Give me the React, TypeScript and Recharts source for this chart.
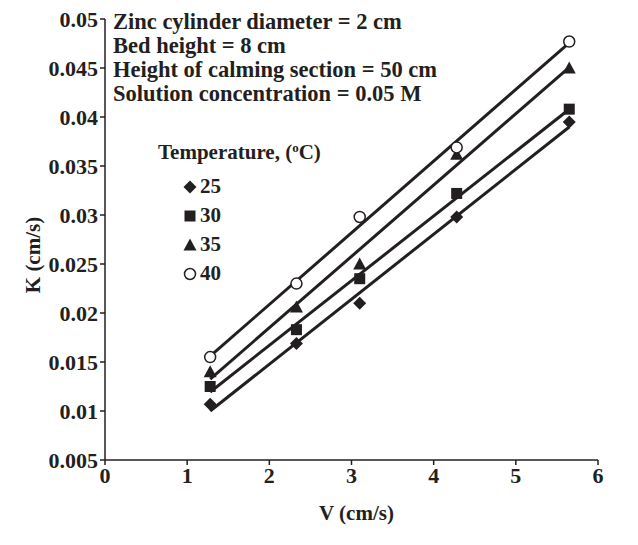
import React from 'react';
import { ScatterChart, Scatter, XAxis, YAxis } from 'recharts';

const velocity = [1.28, 2.33, 3.1, 4.28, 5.65];
const k25 = [0.0107, 0.0169, 0.021, 0.0298, 0.0395];
const k30 = [0.0125, 0.0183, 0.0235, 0.0322, 0.0408];
const k35 = [0.014, 0.0206, 0.025, 0.0362, 0.045];
const k40 = [0.0155, 0.023, 0.0298, 0.0369, 0.0477];
const temperatures = ['25', '30', '35', '40'];
const xTicks = [0, 1, 2, 3, 4, 5, 6];
const yTicks = [0.005, 0.01, 0.015, 0.02, 0.025, 0.03, 0.035, 0.04, 0.045, 0.05];
const notes = [
  'Zinc cylinder diameter = 2 cm',
  'Bed height = 8 cm',
  'Height of calming section = 50 cm',
  'Solution concentration = 0.05 M',
];

const INK = '#231f20';
const FONT = '"Liberation Serif", "Times New Roman", serif';

const toPoints = (ys: number[]) => velocity.map((x, i) => ({ x, y: ys[i] }));
const seriesValues = [k25, k30, k35, k40];

type MarkerKind = 'diamond' | 'square' | 'triangle' | 'circle';
const kinds: MarkerKind[] = ['diamond', 'square', 'triangle', 'circle'];

function Marker({ kind, cx, cy }: { kind: MarkerKind; cx: number; cy: number }) {
  if (kind === 'diamond') {
    const r = 6.5;
    return <polygon points={`${cx},${cy - r} ${cx + r},${cy} ${cx},${cy + r} ${cx - r},${cy}`} fill={INK} />;
  }
  if (kind === 'square') {
    const s = 11;
    return <rect x={cx - s / 2} y={cy - s / 2} width={s} height={s} fill={INK} />;
  }
  if (kind === 'triangle') {
    const h = 11;
    return <polygon points={`${cx},${cy - h / 2 - 1} ${cx + 6.5},${cy + h / 2} ${cx - 6.5},${cy + h / 2}`} fill={INK} />;
  }
  return <circle cx={cx} cy={cy} r={5.5} fill="#fff" stroke={INK} strokeWidth={1.5} />;
}

const makeShape = (kind: MarkerKind) => (props: any) => {
  if (props.cx == null || props.cy == null) return <g />;
  return <Marker kind={kind} cx={props.cx} cy={props.cy} />;
};

const emptyShape = () => <g />;

export default function App() {
  return (
    <div style={{ position: 'absolute', left: 0, top: 0, width: 638, height: 545, background: '#fff', fontFamily: FONT }}>
      <ScatterChart width={638} height={545} margin={{ top: 19, right: 40, bottom: 0, left: 0 }}>
        <XAxis
          type="number"
          dataKey="x"
          domain={[0, 6]}
          ticks={xTicks}
          height={85}
          axisLine={{ stroke: INK, strokeWidth: 1.5 }}
          tickLine={{ stroke: INK, strokeWidth: 1.5 }}
          tickSize={5}
          tick={{ fill: INK, fontFamily: FONT, fontWeight: 'bold', fontSize: 22 }}
          label={(p: any) => {
            const vb = p.viewBox;
            return (
              <text x={vb.x + vb.width / 2 + 5} y={520} textAnchor="middle" fill={INK} fontFamily={FONT} fontWeight="bold" fontSize={21}>
                V (cm/s)
              </text>
            );
          }}
        />
        <YAxis
          type="number"
          dataKey="y"
          domain={[0.005, 0.05]}
          ticks={yTicks}
          width={105}
          allowDataOverflow
          axisLine={{ stroke: INK, strokeWidth: 1.5 }}
          tickLine={{ stroke: INK, strokeWidth: 1.5 }}
          tickSize={5}
          tickFormatter={(v: number) => String(v)}
          tick={{ fill: INK, fontFamily: FONT, fontWeight: 'bold', fontSize: 22 }}
          label={() => {
            const cx = 33;
            const cy = 255;
            return (
              <text x={cx} y={cy} transform={`rotate(-90, ${cx}, ${cy})`} textAnchor="middle" dominantBaseline="central" fill={INK} fontFamily={FONT} fontWeight="bold" fontSize={21}>
                K (cm/s)
              </text>
            );
          }}
        />
        {seriesValues.map((vals, i) => (
          <Scatter
            key={'fit' + i}
            name={'fit ' + temperatures[i]}
            data={toPoints(vals)}
            line={{ stroke: INK, strokeWidth: 3 }}
            lineType="fitting"
            shape={emptyShape}
            isAnimationActive={false}
            legendType="none"
          />
        ))}
        {seriesValues.map((vals, i) => (
          <Scatter
            key={'pts' + i}
            name={temperatures[i]}
            data={toPoints(vals)}
            shape={makeShape(kinds[i])}
            isAnimationActive={false}
          />
        ))}
      </ScatterChart>
      <div style={{ position: 'absolute', left: 113, top: 10, fontWeight: 'bold', fontSize: 22.5, lineHeight: '24px', color: INK, whiteSpace: 'nowrap' }}>
        {notes.map((n) => (
          <div key={n}>{n}</div>
        ))}
      </div>
      <div style={{ position: 'absolute', left: 158, top: 140, fontWeight: 'bold', fontSize: 21, lineHeight: '24px', color: INK, whiteSpace: 'nowrap' }}>
        Temperature, (<sup style={{ fontSize: 13, verticalAlign: 'top', lineHeight: '12px', position: 'relative', top: 2 }}>o</sup>C)
      </div>
      <div style={{ position: 'absolute', left: 182, top: 172, fontWeight: 'bold', fontSize: 21, color: INK }}>
        {temperatures.map((t, i) => (
          <div key={t} style={{ display: 'flex', alignItems: 'center', height: 29 }}>
            <svg width={16} height={16} style={{ marginRight: 2 }}>
              <Marker kind={kinds[i]} cx={8} cy={8} />
            </svg>
            <span>{t}</span>
          </div>
        ))}
      </div>
    </div>
  );
}
